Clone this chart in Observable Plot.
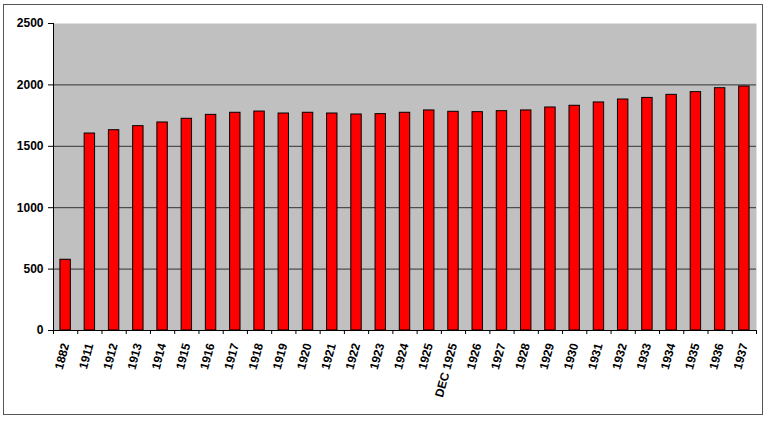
<!DOCTYPE html>
<html>
<head>
<meta charset="utf-8">
<script src="https://cdn.jsdelivr.net/npm/d3@7"></script>
<script src="https://cdn.jsdelivr.net/npm/@observablehq/plot@0.6"></script>
<style>
  body { margin: 0; background: #fff; }
  #wrap { position: relative; width: 768px; height: 447px; }
  #border { position: absolute; left: 3px; top: 4px; width: 758px; height: 409px; border: 1px solid #555; pointer-events: none; }
  svg { font-family: "Liberation Sans", Arial, sans-serif; }
</style>
</head>
<body>
<div id="wrap"><div id="border"></div></div>
<script>
const labels = ["1882","1911","1912","1913","1914","1915","1916","1917","1918","1919","1920","1921","1922","1923","1924","1925","DEC 1925","1926","1927","1928","1929","1930","1931","1932","1933","1934","1935","1936","1937"];
const values = [576,1604,1631,1664,1694,1724,1756,1773,1783,1767,1773,1767,1759,1762,1773,1792,1781,1778,1786,1792,1816,1830,1857,1881,1894,1919,1941,1973,1987];
const yTicks = [0,500,1000,1500,2000,2500];
const gridValues = [500,1000,1500,2000];

const data = labels.map((label, i) => ({label, i, value: values[i]}));
const N = labels.length;

const chart = Plot.plot({
  width: 768,
  height: 447,
  marginLeft: 53,
  marginRight: 12,
  marginTop: 23,
  marginBottom: 117,
  style: {fontFamily: "'Liberation Sans', Arial, sans-serif", fontSize: "12px", fontWeight: "bold", color: "#000", background: "transparent"},
  x: {domain: [0, N], axis: null},
  y: {domain: [0, 2500], axis: null},
  marks: [
    Plot.frame({fill: "#c0c0c0", stroke: null}),
    Plot.ruleY(gridValues, {stroke: "#333", strokeWidth: 1}),
    Plot.rectY(data, {x1: d => d.i + 0.285, x2: d => d.i + 0.715, y: "value", fill: "#ff0000", stroke: "#000", strokeWidth: 1}),
    Plot.ruleY([0], {stroke: "#000"}),
    Plot.ruleX([0], {stroke: "#000"}),
    Plot.axisY({ticks: yTicks, tickSize: 5, tickPadding: 5, tickFormat: d => String(d), label: null, fontWeight: "bold", fontSize: 12, stroke: "#000"}),
    Plot.axisX({ticks: d3.range(N + 1), tickSize: 4, tickFormat: () => "", label: null, stroke: "#000"}),
    Plot.axisX({ticks: d3.range(N).map(i => i + 0.5), tickSize: 0, tickPadding: 13, tickRotate: -75, label: null, tickFormat: v => labels[Math.floor(v)], fontWeight: "bold", fontSize: 12})
  ]
});
document.getElementById("wrap").prepend(chart);
</script>
</body>
</html>
